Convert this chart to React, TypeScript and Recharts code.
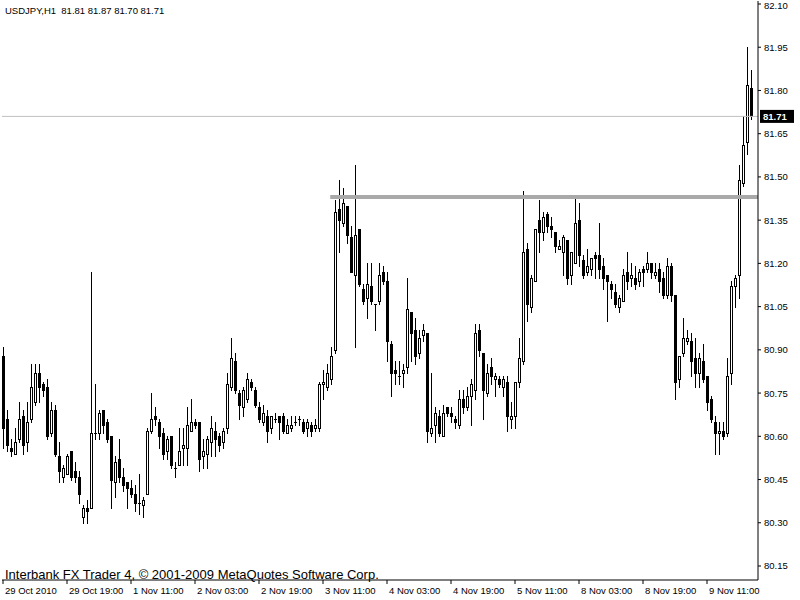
import { ComposedChart, Bar, XAxis, YAxis, ReferenceLine } from 'recharts';

// USDJPY H1, 188 bars
const opens = [
  80.88, 80.66, 80.56, 80.54, 80.59, 80.67, 80.58, 80.66, 80.72, 80.82, 80.78, 80.77, 80.61, 80.69, 80.53, 80.46,
  80.47, 80.55, 80.48, 80.46, 80.32, 80.35, 80.35, 80.61, 80.61, 80.69, 80.65, 80.60, 80.44, 80.52, 80.46, 80.44,
  80.42, 80.40, 80.37, 80.36, 80.40, 80.62, 80.67, 80.65, 80.61, 80.55, 80.60, 80.49, 80.50, 80.56, 80.56, 80.62,
  80.65, 80.65, 80.53, 80.54, 80.58, 80.62, 80.60, 80.58, 80.63, 80.77, 80.86, 80.75, 80.70, 80.73, 80.79, 80.76,
  80.70, 80.65, 80.67, 80.63, 80.66, 80.67, 80.67, 80.61, 80.63, 80.65, 80.66, 80.65, 80.63, 80.64, 80.63, 80.63,
  80.78, 80.77, 80.80, 80.90, 81.39, 81.34, 81.40, 81.29, 81.16, 81.32, 81.11, 81.08, 81.12, 81.06, 81.07, 81.17,
  81.14, 80.92, 80.83, 80.81, 80.82, 80.84, 81.03, 80.97, 80.89, 80.95, 80.96, 80.61, 80.64, 80.67, 80.60, 80.70,
  80.68, 80.66, 80.64, 80.73, 80.70, 80.74, 80.76, 80.97, 80.89, 80.75, 80.84, 80.80, 80.80, 80.77, 80.79, 80.66,
  80.67, 80.79, 80.86, 81.25, 81.05, 81.14, 81.35, 81.31, 81.37, 81.33, 81.31, 81.25, 81.24, 81.28, 81.16, 81.20,
  81.35, 81.21, 81.17, 81.18, 81.23, 81.23, 81.19, 81.16, 81.13, 81.10, 81.05, 81.07, 81.17, 81.15, 81.15, 81.14,
  81.18, 81.18, 81.20, 81.16, 81.18, 81.15, 81.09, 81.19, 81.09, 80.80, 80.89, 80.93, 80.93, 80.87, 80.82, 80.86,
  80.81, 80.73, 80.65, 80.61, 80.62, 80.61, 80.82, 81.12, 81.16, 81.48, 81.62, 81.81,
];
const highs = [
  80.91, 80.69, 80.59, 80.63, 80.72, 80.69, 80.72, 80.85, 80.85, 80.85, 80.79, 80.80, 80.72, 80.71, 80.58, 80.50,
  80.54, 80.55, 80.51, 80.48, 80.36, 80.38, 81.17, 80.78, 80.69, 80.69, 80.66, 80.60, 80.53, 80.59, 80.49, 80.44,
  80.45, 80.43, 80.47, 80.39, 80.63, 80.75, 80.70, 80.66, 80.63, 80.60, 80.60, 80.51, 80.63, 80.63, 80.70, 80.73,
  80.66, 80.65, 80.59, 80.60, 80.67, 80.65, 80.61, 80.63, 80.82, 80.94, 80.89, 80.76, 80.77, 80.82, 80.80, 80.77,
  80.72, 80.71, 80.69, 80.67, 80.68, 80.67, 80.68, 80.66, 80.67, 80.67, 80.67, 80.66, 80.66, 80.65, 80.66, 80.79,
  80.83, 80.85, 80.91, 81.42, 81.49, 81.46, 81.40, 81.33, 81.54, 81.32, 81.13, 81.20, 81.20, 81.06, 81.20, 81.19,
  81.17, 80.93, 80.86, 80.86, 80.85, 81.15, 81.03, 81.01, 80.97, 80.99, 80.96, 80.82, 80.70, 80.69, 80.71, 80.70,
  80.70, 80.67, 80.76, 80.76, 80.77, 80.80, 80.99, 80.99, 80.89, 80.85, 80.87, 80.82, 80.81, 80.81, 80.81, 80.72,
  80.79, 80.94, 81.45, 81.27, 81.16, 81.32, 81.42, 81.38, 81.38, 81.36, 81.31, 81.28, 81.30, 81.28, 81.24, 81.43,
  81.41, 81.23, 81.25, 81.22, 81.24, 81.34, 81.22, 81.16, 81.14, 81.13, 81.09, 81.18, 81.24, 81.20, 81.19, 81.18,
  81.19, 81.24, 81.20, 81.20, 81.20, 81.17, 81.22, 81.20, 81.09, 80.88, 81.01, 80.97, 80.96, 80.94, 80.89, 80.92,
  80.81, 80.74, 80.67, 80.65, 80.65, 80.87, 81.14, 81.16, 81.54, 81.71, 81.95, 81.87,
];
const lows = [
  80.56, 80.55, 80.53, 80.54, 80.58, 80.54, 80.55, 80.65, 80.71, 80.72, 80.74, 80.59, 80.60, 80.53, 80.44, 80.44,
  80.47, 80.45, 80.44, 80.37, 80.30, 80.30, 80.35, 80.59, 80.59, 80.61, 80.58, 80.35, 80.39, 80.44, 80.41, 80.35,
  80.39, 80.34, 80.33, 80.32, 80.40, 80.61, 80.64, 80.56, 80.52, 80.52, 80.49, 80.46, 80.50, 80.50, 80.50, 80.62,
  80.63, 80.48, 80.49, 80.49, 80.53, 80.53, 80.55, 80.56, 80.61, 80.76, 80.75, 80.66, 80.67, 80.72, 80.76, 80.70,
  80.65, 80.64, 80.58, 80.61, 80.65, 80.59, 80.61, 80.61, 80.62, 80.64, 80.64, 80.61, 80.60, 80.60, 80.62, 80.62,
  80.73, 80.76, 80.78, 80.89, 81.24, 81.33, 81.27, 81.17, 80.91, 81.12, 81.06, 81.01, 81.06, 80.97, 81.06, 81.13,
  80.86, 80.74, 80.78, 80.78, 80.77, 80.82, 80.86, 80.85, 80.87, 80.93, 80.58, 80.60, 80.58, 80.60, 80.60, 80.67,
  80.65, 80.63, 80.63, 80.68, 80.69, 80.64, 80.73, 80.88, 80.66, 80.74, 80.78, 80.74, 80.77, 80.74, 80.62, 80.63,
  80.63, 80.77, 80.85, 81.00, 81.03, 81.14, 81.24, 81.28, 81.31, 81.29, 81.24, 81.25, 81.16, 81.13, 81.13, 81.20,
  81.19, 81.15, 81.16, 81.16, 81.15, 81.15, 81.11, 81.00, 81.08, 81.05, 81.03, 81.07, 81.11, 81.12, 81.11, 81.12,
  81.12, 81.17, 81.15, 81.15, 81.10, 81.08, 81.08, 81.07, 80.73, 80.77, 80.88, 80.92, 80.81, 80.77, 80.77, 80.79,
  80.69, 80.65, 80.54, 80.54, 80.59, 80.60, 80.78, 81.05, 81.08, 81.47, 81.58, 81.70,
];
const closes = [
  80.63, 80.57, 80.55, 80.58, 80.66, 80.57, 80.65, 80.77, 80.82, 80.77, 80.76, 80.60, 80.69, 80.54, 80.48, 80.49,
  80.53, 80.46, 80.46, 80.40, 80.35, 80.34, 80.61, 80.61, 80.68, 80.64, 80.59, 80.45, 80.51, 80.46, 80.43, 80.42,
  80.40, 80.37, 80.37, 80.38, 80.62, 80.66, 80.66, 80.60, 80.54, 80.59, 80.50, 80.49, 80.55, 80.57, 80.64, 80.65,
  80.64, 80.52, 80.55, 80.59, 80.63, 80.59, 80.57, 80.62, 80.78, 80.87, 80.76, 80.71, 80.76, 80.80, 80.77, 80.71,
  80.66, 80.68, 80.62, 80.67, 80.66, 80.65, 80.62, 80.64, 80.64, 80.65, 80.66, 80.62, 80.65, 80.62, 80.64, 80.78,
  80.79, 80.82, 80.88, 81.38, 81.35, 81.41, 81.30, 81.17, 81.30, 81.13, 81.07, 81.13, 81.07, 81.06, 81.16, 81.14,
  80.93, 80.82, 80.82, 80.81, 80.83, 81.04, 80.96, 80.88, 80.94, 80.97, 80.62, 80.63, 80.68, 80.61, 80.68, 80.68,
  80.67, 80.65, 80.73, 80.70, 80.74, 80.78, 80.96, 80.90, 80.76, 80.82, 80.81, 80.81, 80.78, 80.80, 80.67, 80.67,
  80.79, 80.87, 81.24, 81.06, 81.15, 81.32, 81.31, 81.36, 81.33, 81.32, 81.26, 81.26, 81.29, 81.15, 81.24, 81.34,
  81.23, 81.16, 81.19, 81.22, 81.22, 81.18, 81.15, 81.14, 81.11, 81.06, 81.08, 81.16, 81.14, 81.16, 81.13, 81.17,
  81.17, 81.20, 81.17, 81.17, 81.14, 81.09, 81.19, 81.09, 80.79, 80.88, 80.94, 80.94, 80.86, 80.82, 80.87, 80.80,
  80.72, 80.66, 80.61, 80.62, 80.60, 80.81, 81.12, 81.15, 81.49, 81.61, 81.82, 81.71,
];

const timeLabels = [
  '29 Oct 2010', '29 Oct 19:00', '1 Nov 11:00', '2 Nov 03:00', '2 Nov 19:00', '3 Nov 11:00',
  '4 Nov 03:00', '4 Nov 19:00', '5 Nov 11:00', '8 Nov 03:00', '8 Nov 19:00', '9 Nov 11:00',
];
const timeTickIdx = [0, 16, 32, 48, 64, 80, 96, 112, 128, 144, 160, 176];

const priceTicks = [
  80.15, 80.3, 80.45, 80.6, 80.75, 80.9, 81.05, 81.2, 81.35, 81.5, 81.65, 81.8, 81.95, 82.1,
];

const resistance = 81.43;
const resistanceFrom = 81.8;
const lastPrice = 81.71;

const data = opens.map((o, i) => ({
  i,
  o,
  h: highs[i],
  l: lows[i],
  c: closes[i],
  range: [lows[i], highs[i]],
}));

const FONT = '"Liberation Sans", Arial, sans-serif';

function Candle(props: any) {
  const { x, y, width, height, payload } = props;
  if (x == null || y == null) return null;
  const { o, h, l, c } = payload;
  const top = Math.min(y, y + height);
  const hh = Math.abs(height);
  const span = h - l;
  const toY = (v: number) => (span === 0 ? top : top + ((h - v) / span) * hh);
  const cx = Math.round(x + width / 2) + 0.5;
  const bTop = Math.round(toY(Math.max(o, c))) + 0.5;
  const bBot = Math.round(toY(Math.min(o, c))) + 0.5;
  const bull = c >= o;
  return (
    <g shapeRendering="crispEdges">
      <line x1={cx} x2={cx} y1={Math.round(top)} y2={Math.round(top + hh) + 1} stroke="#000" strokeWidth={1} />
      {bBot - bTop < 1 ? (
        <line x1={cx - 1.5} x2={cx + 1.5} y1={bTop} y2={bTop} stroke="#000" strokeWidth={1} />
      ) : (
        <rect
          x={cx - 1}
          y={bTop}
          width={2}
          height={bBot - bTop}
          fill={bull ? '#fff' : '#000'}
          stroke="#000"
          strokeWidth={1}
        />
      )}
    </g>
  );
}

function TimeTick(props: any) {
  const { x, y, payload } = props;
  const k = timeTickIdx.indexOf(payload.value);
  return (
    <text x={x + 2} y={y + 8} textAnchor="start" fontSize={9.5} fontFamily={FONT} fill="#000">
      {timeLabels[k]}
    </text>
  );
}

function PriceTick(props: any) {
  const { x, y, payload } = props;
  // keep the top label inside the picture
  const ty = Math.max(y, 5);
  return (
    <text x={x} y={ty + 3.5} textAnchor="start" fontSize={9.5} fontFamily={FONT} fill="#000">
      {payload.value.toFixed(2)}
    </text>
  );
}

function PriceTag(props: any) {
  const vb = props.viewBox || {};
  const right = (vb.x || 0) + (vb.width || 0);
  return (
    <g>
      <rect x={right + 2} y={vb.y - 6.5} width={34} height={13} fill="#000" />
      <text
        x={right + 5}
        y={vb.y + 3.5}
        fontSize={9.5}
        fontWeight="bold"
        fontFamily={FONT}
        fill="#fff"
      >
        {lastPrice.toFixed(2)}
      </text>
    </g>
  );
}

export default function App() {
  return (
    <div style={{ position: 'absolute', left: 0, top: 0, width: 800, height: 600, background: '#fff' }}>
      <ComposedChart
        width={800}
        height={600}
        data={data}
        margin={{ top: 1, right: 0, left: 2, bottom: 0 }}
      >
        <XAxis
          type="number"
          dataKey="i"
          domain={[-0.25, 188.75]}
          allowDataOverflow
          ticks={timeTickIdx}
          interval={0}
          tick={<TimeTick />}
          tickSize={4}
          height={20}
          axisLine={{ stroke: '#000' }}
          tickLine={{ stroke: '#000' }}
        />
        <YAxis
          orientation="right"
          type="number"
          domain={[80.1014, 82.1104]}
          allowDataOverflow
          ticks={priceTicks}
          interval={0}
          tick={<PriceTick />}
          tickSize={3}
          tickMargin={3}
          width={42}
          axisLine={{ stroke: '#000' }}
          tickLine={{ stroke: '#000' }}
        />
        <ReferenceLine y={lastPrice} stroke="#c0c0c0" strokeWidth={1} label={<PriceTag />} />
        <ReferenceLine
          segment={[
            { x: resistanceFrom, y: resistance },
            { x: 188.75, y: resistance },
          ]}
          stroke="#a9a9a9"
          strokeWidth={4}
        />
        <Bar dataKey="range" barSize={3} shape={<Candle />} isAnimationActive={false} />
      </ComposedChart>
      <div
        style={{
          position: 'absolute',
          left: 5,
          top: 5,
          fontFamily: FONT,
          fontSize: 9.5,
          whiteSpace: 'pre',
          color: '#000',
        }}
      >
        {'USDJPY,H1  81.81 81.87 81.70 81.71'}
      </div>
      <div
        style={{
          position: 'absolute',
          left: 5,
          top: 567,
          fontFamily: FONT,
          fontSize: 13,
          whiteSpace: 'pre',
          color: '#000',
        }}
      >
        Interbank FX Trader 4, © 2001-2009 MetaQuotes Software Corp.
      </div>
    </div>
  );
}
